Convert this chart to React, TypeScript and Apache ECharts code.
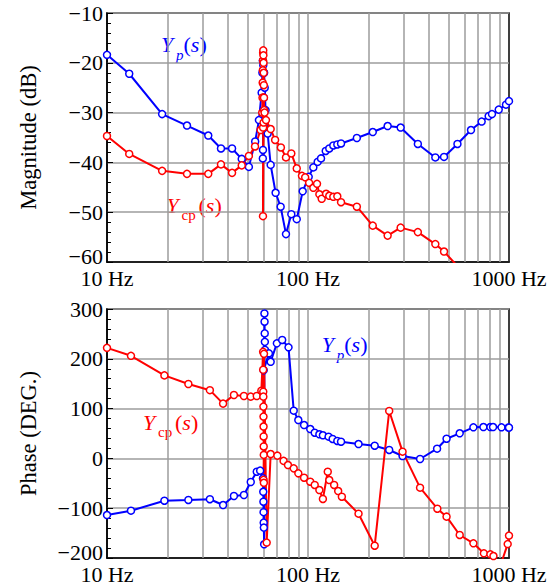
import React, { useEffect, useRef } from "react";
import * as echarts from "echarts";

// ---------- data ----------
const magYpFreq = [10, 12.9, 18.8, 25.0, 31.9, 36.9, 41.9, 46.8, 50.8, 54.6, 57.0, 58.8, 59.3, 59.6, 59.9, 59.7, 59.6, 60.2, 60.5, 60.9, 61.5, 63.0, 65.2, 69.0, 73.1, 77.7, 82.6, 87.9, 94.1, 100.8, 106.3, 111.7, 116.1, 122.5, 127.6, 133.6, 139.9, 146, 175, 210, 249, 289, 352, 430, 475, 554, 647, 731, 792, 823, 889, 966, 1000];
const magYpDb = [-18.4, -22.2, -30.3, -32.6, -34.6, -37.2, -37.2, -39.3, -40.9, -35.8, -31.5, -26, -22, -19.6, -20.5, -37.5, -39.2, -27, -22, -25, -29.5, -34.2, -40.5, -46.1, -48.9, -54.4, -50.4, -51.4, -45.8, -42.9, -41.0, -39.9, -39.2, -37.7, -37.2, -36.6, -36.4, -36.2, -35.1, -33.9, -32.7, -33.0, -36.3, -39.0, -38.9, -36.3, -33.5, -31.8, -30.7, -30.3, -29.4, -28.4, -27.7];

const magYcpFreq = [10, 12.9, 18.8, 25.0, 31.9, 36.9, 41.9, 46.8, 50.8, 54.5, 58.1, 59.2, 59.4, 59.5, 59.6, 59.7, 59.8, 59.9, 60.0, 60.1, 60.2, 60.3, 60.4, 60.5, 59.8, 59.7, 60.1, 60.8, 61.8, 65.2, 68.6, 73.3, 77.7, 82.6, 87.9, 93.3, 96.8, 101.3, 106.3, 110.9, 113.9, 117.0, 123.0, 127.6, 133.6, 139.9, 146, 175, 210, 249, 289, 352, 430, 475, 568];
const magYcpDb = [-34.7, -38.3, -41.7, -42.3, -42.3, -40.4, -42.1, -40.6, -38.7, -36.8, -33.5, -30, -27, -24, -21.5, -19.5, -18, -17.5, -18.5, -20, -22, -24.5, -27, -29.5, -33, -50.8, -32, -30, -31.5, -33.3, -35.5, -37.0, -39.0, -38.2, -41.2, -42.7, -43.0, -44.1, -45.1, -44.3, -46.4, -47.3, -46.3, -46.7, -46.9, -46.8, -48.0, -48.9, -52.7, -54.7, -53.1, -54.0, -56.4, -57.9, -61.3];

const phYpFreq = [10, 13.16, 19.3, 25.4, 32.5, 37.8, 42.8, 48.0, 51.9, 55.6, 57.8, 59.7, 59.9, 60.0, 60.1, 60.2, 60.3, 60.5, 60.7, 60.8, 60.9, 61.0, 61.1, 60.2, 63.9, 65.2, 70, 74.4, 80, 84.9, 89.5, 95.6, 102.6, 108, 113.9, 118.6, 126.6, 132.6, 139.9, 146, 178.4, 214.7, 253.5, 295.4, 361, 438.7, 489, 568.5, 665, 746, 808, 833, 918, 994, 1000];
const phYpDeg = [-113.7, -105, -85, -83.5, -82, -93.6, -75.5, -73.5, -47.4, -26.7, -24.6, -40, -67, -87, -108, -129, -139, -172.5, 291, 274.5, 251, 234, 218, 177, 211, 194, 231, 237.8, 223, 95.8, 77, 67, 59, 51.6, 48.4, 46.4, 43.6, 39, 35, 33.5, 28.9, 25.5, 16.9, 4.8, -1.2, 19.5, 39.5, 50.4, 62.4, 63, 63, 63, 62.4, 62, 61.8];

const phYcpFreq = [10, 13.16, 19.3, 25.4, 32.5, 37.8, 42.8, 48.0, 51.9, 55.6, 58.6, 59.8, 59.85, 59.9, 59.95, 60.0, 60.05, 60.1, 60.15, 60.2, 60.25, 60.1, 60.3, 60.4, 62.3, 65.2, 70.4, 75.6, 79.5, 84.9, 89.5, 95.6, 102.6, 108, 113.9, 118.6, 125.4, 127.6, 134.9, 141.3, 147.4, 178.4, 214.7, 253.5, 295.4, 361, 440, 489, 568.5, 665, 750, 808, 837, 889, 985, 1000];
const phYcpDeg = [222, 206, 166.7, 149.4, 137, 110, 127.3, 125.3, 124, 125.3, 136, 214, 178, 134, 124, 104, 84, 64, 44, 24, 7, -43, -49, 210, -169, 8.8, 5.5, -5, -13.3, -20, -30, -38.8, -46.8, -53.4, -63.5, -81.5, -26.7, -43.4, -53.4, -65.5, -76.9, -111, -175.3, 95.2, 13.5, -58.8, -101, -117, -153.8, -170.5, -190.6, -192.6, -196, -225, -172, -155];

const gridFreqs = [20, 30, 40, 50, 60, 70, 80, 90, 100, 200, 300, 400, 500, 600, 700, 800, 900];

// ---------- styling ----------
const BLUE = "#0000ff";
const RED = "#ff0000";
const FONT = "Liberation Serif, serif";
const GRID_GRAY = "#9c9c9c";

const zip = (a: number[], b: number[]) => a.map((v, i) => [v, b[i]]);
const fmtNum = (v: number) => (v < 0 ? "\u2212" + Math.abs(v) : String(v));

function lineSeries(name: string, fr: number[], vals: number[], color: string, idx: number, withGrid: boolean) {
  const s: any = {
    name,
    type: "line",
    xAxisIndex: idx,
    yAxisIndex: idx,
    data: zip(fr, vals),
    symbol: "circle",
    symbolSize: 7,
    clip: true,
    lineStyle: { color, width: 2 },
    itemStyle: { color: "#ffffff", borderColor: color, borderWidth: 1.5 },
    emphasis: { disabled: true },
    z: 3,
  };
  if (withGrid) {
    s.markLine = {
      silent: true,
      symbol: ["none", "none"],
      label: { show: false },
      lineStyle: { color: GRID_GRAY, width: 1.5, type: "solid" },
      emphasis: { disabled: true },
      z: 1,
      data: gridFreqs.map((f) => ({ xAxis: f })),
    };
  }
  return s;
}

function txtStyle(text: string, font: string, color: string) {
  return { text, font, fill: color, align: "left", verticalAlign: "middle", textAlign: "left", textVerticalAlign: "middle" };
}

function labelGroup(box: number[], x0: number, mid: number, sub: string, subItalic: boolean, subDx: number, subMid: number, parenDx: number, color: string) {
  return {
    type: "group",
    z: 10,
    children: [
      { type: "rect", shape: { x: box[0], y: box[1], width: box[2], height: box[3] }, style: { fill: "#ffffff" } },
      { type: "text", x: x0, y: mid, style: txtStyle("Y", `italic 22px ${FONT}`, color) },
      { type: "text", x: x0 + subDx, y: subMid, style: txtStyle(sub, `${subItalic ? "italic " : ""}15px ${FONT}`, color) },
      { type: "text", x: x0 + parenDx, y: mid, style: txtStyle("(", `22px ${FONT}`, color) },
      { type: "text", x: x0 + parenDx + 7.3, y: mid, style: txtStyle("s", `italic 22px ${FONT}`, color) },
      { type: "text", x: x0 + parenDx + 16, y: mid, style: txtStyle(")", `22px ${FONT}`, color) },
    ],
  };
}

function xAxis(idx: number) {
  return {
    type: "log",
    logBase: 10,
    gridIndex: idx,
    min: 10,
    max: 1000,
    axisLine: { show: true, onZero: false, lineStyle: { color: "#000", width: 1.5 } },
    axisTick: { show: false },
    splitLine: { show: false },
    axisLabel: {
      show: true,
      formatter: (v: number) => `${v} Hz`,
      fontFamily: FONT,
      fontSize: 22,
      color: "#000",
      margin: 5,
      showMinLabel: true,
      showMaxLabel: true,
    },
  };
}

function yAxis(idx: number, min: number, max: number, interval: number, name: string) {
  return {
    type: "value",
    gridIndex: idx,
    min,
    max,
    interval,
    name,
    nameLocation: "middle",
    nameRotate: 90,
    nameGap: 67,
    nameTextStyle: { fontFamily: FONT, fontSize: 22.5, color: "#000" },
    axisLine: { show: true, onZero: false, lineStyle: { color: "#000", width: 1.5 } },
    axisTick: { show: true, inside: true, length: 6, lineStyle: { color: "#000", width: 1 } },
    minorTick: { show: true, splitNumber: 5, length: 4, lineStyle: { color: "#000", width: 1 } },
    splitLine: { show: true, lineStyle: { color: GRID_GRAY, width: 1.5 } },
    axisLabel: {
      formatter: (v: number) => (v === min ? `{lo|${fmtNum(v)}}` : fmtNum(v)),
      fontFamily: FONT,
      fontSize: 22,
      color: "#000",
      margin: 4,
      rich: {
        lo: { fontFamily: FONT, fontSize: 22, color: "#000", padding: [0, 0, 12, 0] },
      },
    },
  };
}

export default function App() {
  const ref = useRef<HTMLDivElement>(null);
  useEffect(() => {
    const chart = echarts.init(ref.current!, null, { renderer: "svg" });
    const option: any = {
      animation: false,
      backgroundColor: "#ffffff",
      grid: [
        { left: 107, top: 13, width: 402, height: 249, show: true, borderColor: "#000", borderWidth: 1.5, backgroundColor: "transparent" },
        { left: 107, top: 309, width: 402, height: 249, show: true, borderColor: "#000", borderWidth: 1.5, backgroundColor: "transparent" },
      ],
      xAxis: [xAxis(0), xAxis(1)],
      yAxis: [yAxis(0, -60, -10, 10, "Magnitude (dB)"), yAxis(1, -200, 300, 100, "Phase (DEG.)")],
      series: [
        lineSeries("Yp mag", magYpFreq, magYpDb, BLUE, 0, true),
        lineSeries("Ycp mag", magYcpFreq, magYcpDb, RED, 0, false),
        lineSeries("Yp phase", phYpFreq, phYpDeg, BLUE, 1, true),
        lineSeries("Ycp phase", phYcpFreq, phYcpDeg, RED, 1, false),
      ],
      graphic: [
        labelGroup([143, 33, 79, 49], 161, 44.3, "p", true, 15, 54.5, 22.5, BLUE),
        labelGroup([160, 190, 73, 45], 166.5, 205.5, "cp", false, 15, 214.5, 32, RED),
        labelGroup([122, 403, 90, 47], 143, 422.5, "cp", false, 15, 431.5, 32, RED),
        labelGroup([308, 334, 75, 36], 321.7, 344.3, "p", true, 15, 354.5, 22.5, BLUE),
      ],
    };
    chart.setOption(option);
    return () => chart.dispose();
  }, []);
  return <div ref={ref} style={{ position: "absolute", left: 0, top: 0, width: 556, height: 588 }} />;
}
